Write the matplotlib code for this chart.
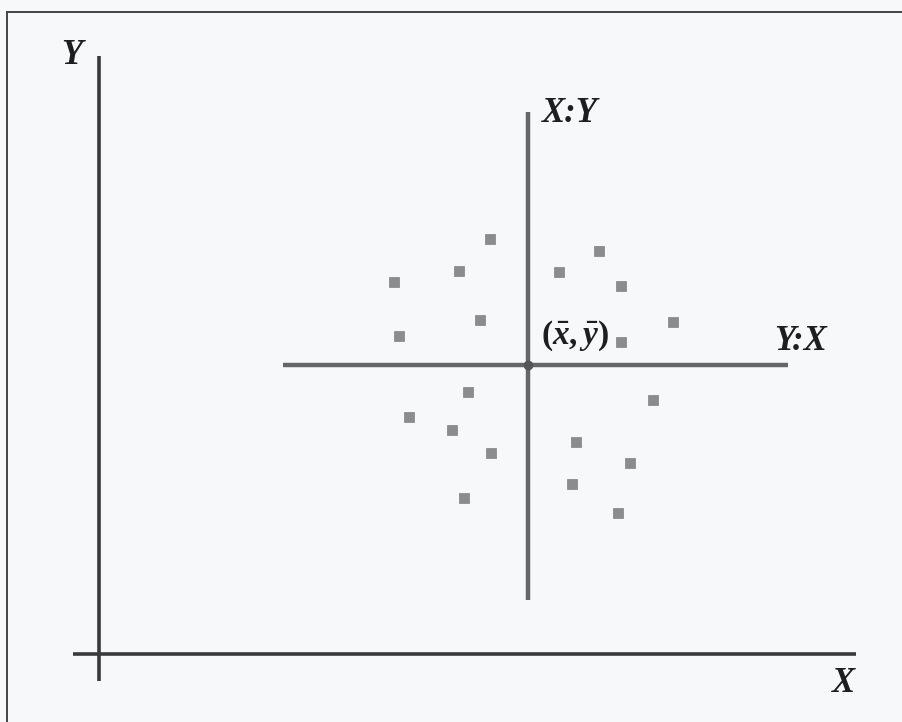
import matplotlib
matplotlib.use("Agg")
import matplotlib.pyplot as plt
from matplotlib.lines import Line2D

# scatter observations (x, y) in plot units
xs = [39.1, 36.0, 29.5, 38.1, 30.0, 50.0, 46.0, 52.2, 57.4, 52.2,
      36.9, 31.0, 35.3, 39.2, 36.5, 55.4, 47.7, 53.1, 47.3, 51.9]
ys = [41.5, 38.3, 37.2, 33.4, 31.8, 40.3, 38.2, 36.8, 33.2, 31.2,
      26.2, 23.7, 22.4, 20.1, 15.6, 25.4, 21.2, 19.1, 17.0, 14.1]

# centre of the cloud and extents of the two regression lines
x_mean, y_mean = 42.9, 28.9
xy_line = (5.4, 54.2)    # X:Y line, vertical span
yx_line = (18.4, 68.9)   # Y:X line, horizontal span

# main axes extents
x_axis = (-2.6, 75.7)
y_axis = (-2.7, 59.8)

plt.rcParams['mathtext.fontset'] = 'custom'
plt.rcParams['mathtext.it'] = 'Liberation Serif:italic:bold'
plt.rcParams['mathtext.rm'] = 'Liberation Serif:bold'

bg = '#f6f8fa'
fig = plt.figure(figsize=(9.03, 7.22), dpi=100, facecolor=bg)
ax = fig.add_axes([0, 0, 1, 1])
ax.set_facecolor(bg)
ax.set_xlim(-9.9, 80.4)
ax.set_ylim(-6.8, 65.4)
ax.axis('off')

# frame around the figure (top and left edges)
fig.add_artist(Line2D([0.008, 1.0], [0.984, 0.984], color='#444444', lw=1.4))
fig.add_artist(Line2D([0.008, 0.008], [0.0, 0.984], color='#444444', lw=1.4))

# X and Y axes
ax.plot(x_axis, [0, 0], color='#3a3a3a', lw=2.6, solid_capstyle='butt')
ax.plot([0, 0], y_axis, color='#3a3a3a', lw=2.6, solid_capstyle='butt')

# regression lines crossing at the means
ax.plot(yx_line, [y_mean, y_mean], color='#666666', lw=3.2, solid_capstyle='butt')
ax.plot([x_mean, x_mean], xy_line, color='#666666', lw=3.2, solid_capstyle='butt')
ax.plot([x_mean], [y_mean], 'o', color='#555555', ms=6)

ax.plot(xs, ys, 's', color='#8c8c8c', ms=6.8, mec='#8c8c8c', mew=0.6)

lbl = dict(family='Liberation Serif', style='italic', weight='bold',
           fontsize=25, color='#1e1e1e', ha='center', va='center')
ax.text(-2.7, 59.9, 'Y', **lbl)
ax.text(74.4, -2.9, 'X', **lbl)
ax.text(47.1, 54.0, 'X:Y', **lbl)
ax.text(70.2, 31.3, 'Y:X', **lbl)
ax.text(47.6, 31.8, r'$(\bar{x},\bar{y})$', fontsize=24, color='#1e1e1e',
        ha='center', va='center')

fig.savefig('out.png', dpi=100, facecolor=bg)
